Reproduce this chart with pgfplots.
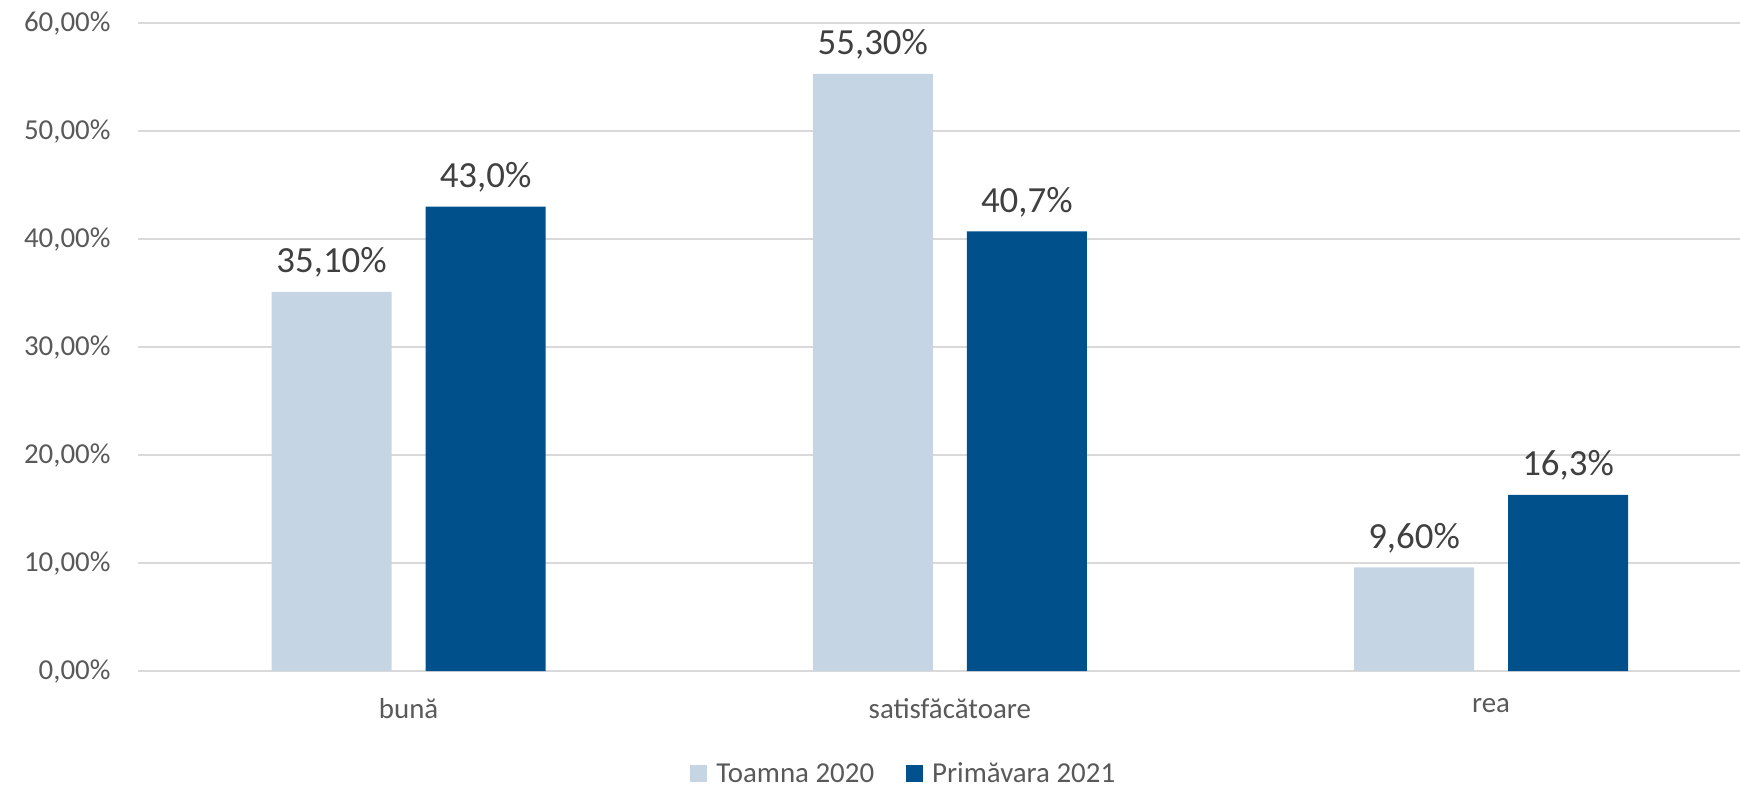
\documentclass[border=0pt]{standalone}
\usepackage{pgfplots}
\pgfplotsset{compat=1.18}
\usepackage{fontspec}
\setmainfont{Carlito}
\definecolor{toamna}{HTML}{C6D5E4}
\definecolor{primavara}{HTML}{00508C}
\definecolor{gridgray}{HTML}{D9D9D9}
\definecolor{ticktext}{HTML}{595959}
\definecolor{labeltext}{HTML}{404040}
\begin{document}
\begin{tikzpicture}
\useasboundingbox (-138bp,-116bp) rectangle (1602bp,671bp);
\begin{axis}[
  scale only axis,
  width=1602bp, height=648bp,
  ybar=34bp, bar width=120bp,
  xmin=-0.5, xmax=2.46,
  ymin=0, ymax=60,
  ytick={0,10,...,60},
  yticklabels={0{,}00\%,10{,}00\%,20{,}00\%,30{,}00\%,40{,}00\%,50{,}00\%,60{,}00\%},
  xtick={0,1,2},
  xticklabels={bună,satisfăcătoare,rea},
  axis x line*=bottom,
  axis y line*=left,
  y axis line style={draw=none},
  ymajorgrids,
  grid style={gridgray, line width=1.3bp},
  x axis line style={gridgray, line width=1.3bp, -},
  major tick length=0pt,
  tick style={draw=none},
  tick label style={font=\fontsize{29}{34}\selectfont, text=ticktext},
  yticklabel style={xshift=-24bp},
  xticklabel style={yshift=-24bp},
  enlarge x limits=false,
  clip=false,
  nodes near coords,
  point meta=explicit symbolic,
  every node near coord/.append style={font=\fontsize{37}{43}\selectfont, text=labeltext, yshift=11bp},
  legend style={at={(axis description cs:0.478,-0.158)}, anchor=center, draw=none,
    legend columns=2, font=\fontsize{29}{34}\selectfont, text=ticktext,
    /tikz/every even column/.append style={column sep=30bp}},
  legend image code/.code={\fill[#1] (0bp,-8.5bp) rectangle (17bp,8.5bp); \path (24bp,0bp);},
]
\addplot[fill=toamna, draw=none] coordinates {
  (0,35.1) [35{,}10\%]
  (1,55.3) [55{,}30\%]
  (2,9.6)  [9{,}60\%]
};
\addplot[fill=primavara, draw=none] coordinates {
  (0,43.0) [43{,}0\%]
  (1,40.7) [40{,}7\%]
  (2,16.3) [16{,}3\%]
};
\legend{Toamna 2020, Primăvara 2021}
\end{axis}
\end{tikzpicture}
\end{document}
